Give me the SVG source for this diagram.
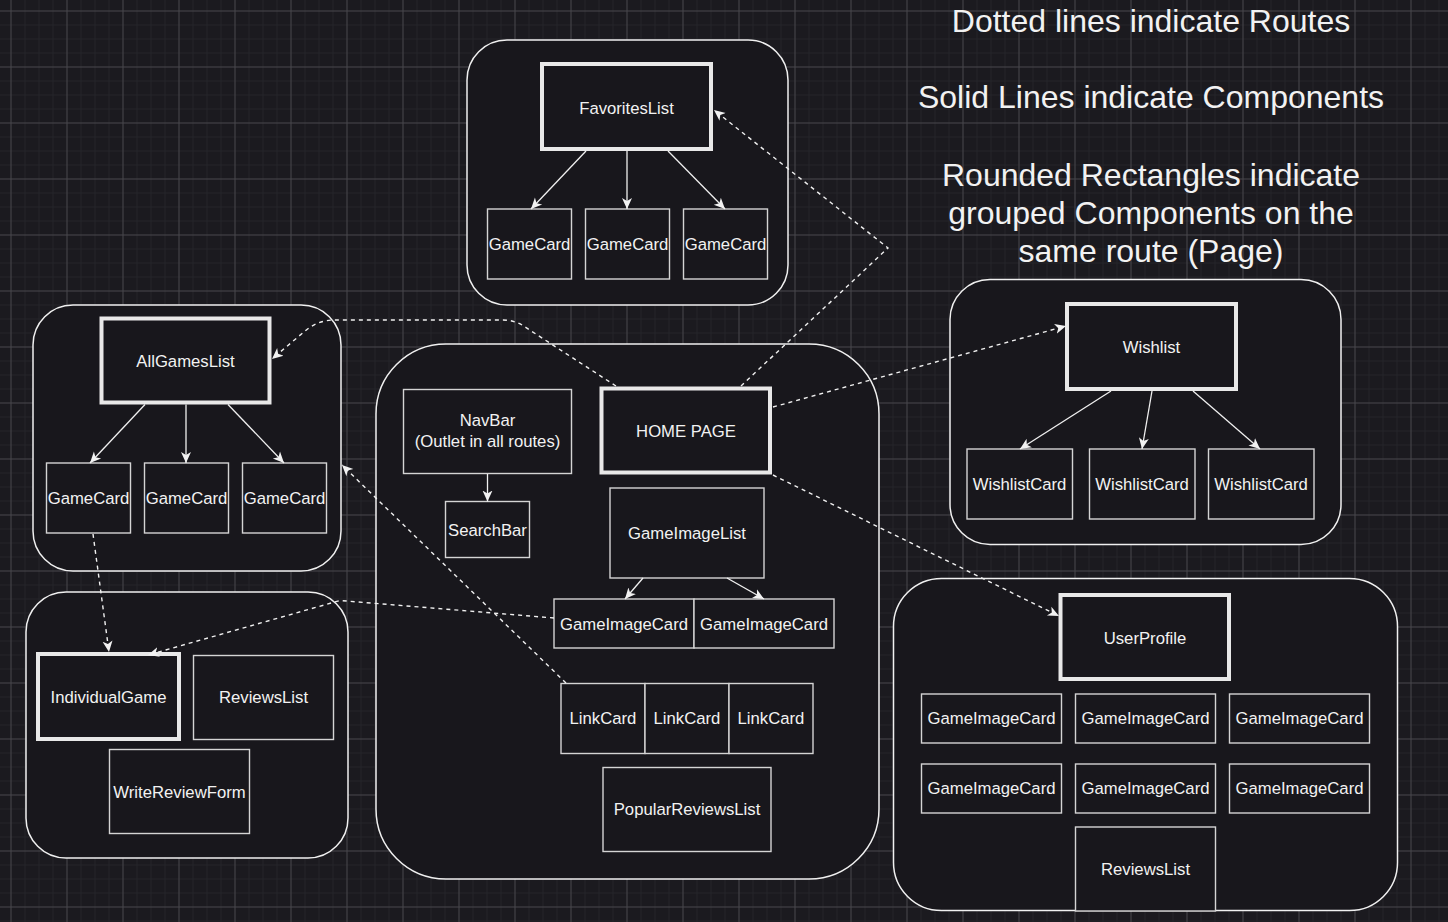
<svg xmlns="http://www.w3.org/2000/svg" width="1448" height="922" viewBox="0 0 1448 922">
<defs>
<pattern id="grid" patternUnits="userSpaceOnUse" x="10.5" y="10.5" width="56" height="56">
<rect width="56" height="56" fill="#1b1a1f"/>
<path d="M14.5,0V56M28.5,0V56M42.5,0V56M0,14.5H56M0,28.5H56M0,42.5H56" stroke="#25242a" stroke-width="1"/>
<path d="M0.5,0V56M0,0.5H56" stroke="#48474c" stroke-width="1"/>
</pattern>
<marker id="arr" viewBox="0 0 12 12" refX="11" refY="6" markerWidth="12" markerHeight="12" markerUnits="userSpaceOnUse" orient="auto">
<path d="M0,1 L11,6 L0,11 L3,6 Z" fill="#f2f2f2"/>
</marker>
</defs>
<style>
.ct{fill:#18171c;stroke:#f0f0f0;stroke-width:1.5}
.bx{fill:#18171c;stroke:#d4d4d4;stroke-width:1.4}
.tk{fill:#18171c;stroke:#e8e8e8;stroke-width:4}
.t{font-family:"Liberation Sans",Arial,sans-serif;font-size:16.7px;fill:#f2f2f2;text-anchor:middle}
.lg{font-family:"Liberation Sans",Arial,sans-serif;font-size:32px;fill:#f2f2f2;text-anchor:middle}
.sl{fill:none;stroke:#f0f0f0;stroke-width:1.3;marker-end:url(#arr)}
.dl{fill:none;stroke:#f0f0f0;stroke-width:1.4;stroke-dasharray:4 4;marker-end:url(#arr)}
</style>
<rect width="1448" height="922" fill="url(#grid)"/>

<g id="legend">
<text class="lg" x="1151" y="32">Dotted lines indicate Routes</text>
<text class="lg" x="1151" y="108">Solid Lines indicate Components</text>
<text class="lg" x="1151" y="186">Rounded Rectangles indicate</text>
<text class="lg" x="1151" y="224">grouped Components on the</text>
<text class="lg" x="1151" y="262">same route (Page)</text>
</g>

<g id="favorites-page">
<rect class="ct" x="467" y="40" width="321" height="265" rx="40"/>
</g>
<g id="allgames-page">
<rect class="ct" x="33" y="305" width="308" height="266" rx="40"/>
</g>
<g id="individualgame-page">
<rect class="ct" x="26" y="592" width="322" height="266" rx="40"/>
</g>
<g id="home-page-group">
<rect class="ct" x="376" y="344" width="503" height="535" rx="70"/>
</g>
<g id="wishlist-page">
<rect class="ct" x="950" y="279.5" width="391" height="265" rx="40"/>
</g>
<g id="userprofile-page">
<rect class="ct" x="893.5" y="578.5" width="504" height="332" rx="48"/>
</g>

<g id="favoriteslist"><rect class="tk" x="542" y="64" width="169" height="85"/><text class="t" x="626.5" y="114">FavoritesList</text></g>
<g id="fav-gamecard-1"><rect class="bx" x="487.5" y="209" width="84" height="70"/><text class="t" x="529.5" y="249.5">GameCard</text></g>
<g id="fav-gamecard-2"><rect class="bx" x="585.5" y="209" width="84" height="70"/><text class="t" x="627.5" y="249.5">GameCard</text></g>
<g id="fav-gamecard-3"><rect class="bx" x="683.5" y="209" width="84" height="70"/><text class="t" x="725.5" y="249.5">GameCard</text></g>

<g id="allgameslist"><rect class="tk" x="101.5" y="318.5" width="168" height="84"/><text class="t" x="185.5" y="366.5">AllGamesList</text></g>
<g id="all-gamecard-1"><rect class="bx" x="46.5" y="463" width="84" height="70"/><text class="t" x="88.5" y="504">GameCard</text></g>
<g id="all-gamecard-2"><rect class="bx" x="144.5" y="463" width="84" height="70"/><text class="t" x="186.5" y="504">GameCard</text></g>
<g id="all-gamecard-3"><rect class="bx" x="242.5" y="463" width="84" height="70"/><text class="t" x="284.5" y="504">GameCard</text></g>

<g id="individualgame"><rect class="tk" x="38" y="654" width="141" height="85"/><text class="t" x="108.5" y="703">IndividualGame</text></g>
<g id="ig-reviewslist"><rect class="bx" x="193.5" y="655.5" width="140" height="84"/><text class="t" x="263.5" y="703">ReviewsList</text></g>
<g id="writereviewform"><rect class="bx" x="109.5" y="749.5" width="140" height="84"/><text class="t" x="179.5" y="797.5">WriteReviewForm</text></g>

<g id="navbar"><rect class="bx" x="403.5" y="389.5" width="168" height="84"/><text class="t" x="487.5" y="426">NavBar</text><text class="t" x="487.5" y="447">(Outlet in all routes)</text></g>
<g id="searchbar"><rect class="bx" x="445.5" y="501.5" width="84" height="56"/><text class="t" x="487.5" y="535.5">SearchBar</text></g>
<g id="homepage"><rect class="tk" x="601.5" y="388.5" width="168.5" height="84"/><text class="t" x="686" y="437">HOME PAGE</text></g>
<g id="gameimagelist"><rect class="bx" x="610" y="488" width="154" height="90"/><text class="t" x="687" y="539">GameImageList</text></g>
<g id="home-gic-1"><rect class="bx" x="554" y="599" width="140" height="49"/><text class="t" x="624" y="630">GameImageCard</text></g>
<g id="home-gic-2"><rect class="bx" x="694" y="599" width="140" height="49"/><text class="t" x="764" y="630">GameImageCard</text></g>
<g id="linkcard-1"><rect class="bx" x="561" y="683.5" width="84" height="70"/><text class="t" x="603" y="724">LinkCard</text></g>
<g id="linkcard-2"><rect class="bx" x="645" y="683.5" width="84" height="70"/><text class="t" x="687" y="724">LinkCard</text></g>
<g id="linkcard-3"><rect class="bx" x="729" y="683.5" width="84" height="70"/><text class="t" x="771" y="724">LinkCard</text></g>
<g id="popularreviewslist"><rect class="bx" x="603" y="767.5" width="168" height="84"/><text class="t" x="687" y="815">PopularReviewsList</text></g>

<g id="wishlist"><rect class="tk" x="1067" y="304" width="169" height="85"/><text class="t" x="1151.5" y="352.5">Wishlist</text></g>
<g id="wishlistcard-1"><rect class="bx" x="967" y="449" width="105.5" height="70"/><text class="t" x="1019.5" y="490">WishlistCard</text></g>
<g id="wishlistcard-2"><rect class="bx" x="1089.5" y="449" width="105.5" height="70"/><text class="t" x="1142" y="490">WishlistCard</text></g>
<g id="wishlistcard-3"><rect class="bx" x="1208.5" y="449" width="105.5" height="70"/><text class="t" x="1261" y="490">WishlistCard</text></g>

<g id="userprofile"><rect class="tk" x="1060.5" y="595" width="168.5" height="84"/><text class="t" x="1145" y="644">UserProfile</text></g>
<g id="up-gic-1"><rect class="bx" x="921.5" y="694" width="140" height="49"/><text class="t" x="991.5" y="724">GameImageCard</text></g>
<g id="up-gic-2"><rect class="bx" x="1075.5" y="694" width="140" height="49"/><text class="t" x="1145.5" y="724">GameImageCard</text></g>
<g id="up-gic-3"><rect class="bx" x="1229.5" y="694" width="140" height="49"/><text class="t" x="1299.5" y="724">GameImageCard</text></g>
<g id="up-gic-4"><rect class="bx" x="921.5" y="764" width="140" height="49"/><text class="t" x="991.5" y="794">GameImageCard</text></g>
<g id="up-gic-5"><rect class="bx" x="1075.5" y="764" width="140" height="49"/><text class="t" x="1145.5" y="794">GameImageCard</text></g>
<g id="up-gic-6"><rect class="bx" x="1229.5" y="764" width="140" height="49"/><text class="t" x="1299.5" y="794">GameImageCard</text></g>
<g id="up-reviewslist"><rect class="bx" x="1075.5" y="827" width="140" height="84"/><text class="t" x="1145.5" y="874.5">ReviewsList</text></g>

<g id="connectors">
<path class="sl" d="M586,151 L531,209"/>
<path class="sl" d="M627,151 L627,209"/>
<path class="sl" d="M668,151 L725,209"/>
<path class="sl" d="M145,404.5 L90,463"/>
<path class="sl" d="M186,404.5 L186,463"/>
<path class="sl" d="M228,404.5 L284,463"/>
<path class="sl" d="M487.5,474 L487.5,501.5"/>
<path class="sl" d="M643,578 L625,599"/>
<path class="sl" d="M727,578 L764,599"/>
<path class="sl" d="M1111,391 L1020,449"/>
<path class="sl" d="M1152,391 L1142,449"/>
<path class="sl" d="M1193,391 L1260,449"/>
<path class="dl" d="M741,386 L888,248 L714,110"/>
<path class="dl" d="M616,386 L522,325 Q513,320 503,320 L335,320 Q318,320 305,331 L272,359"/>
<path class="dl" d="M773,407 L1066,326"/>
<path class="dl" d="M773,475 L1059,616"/>
<path class="dl" d="M566,683 L342,465"/>
<path class="dl" d="M93,534 L109,652"/>
<path class="dl" d="M554,618 L340,600.5 L148,655"/>
</g>
</svg>
